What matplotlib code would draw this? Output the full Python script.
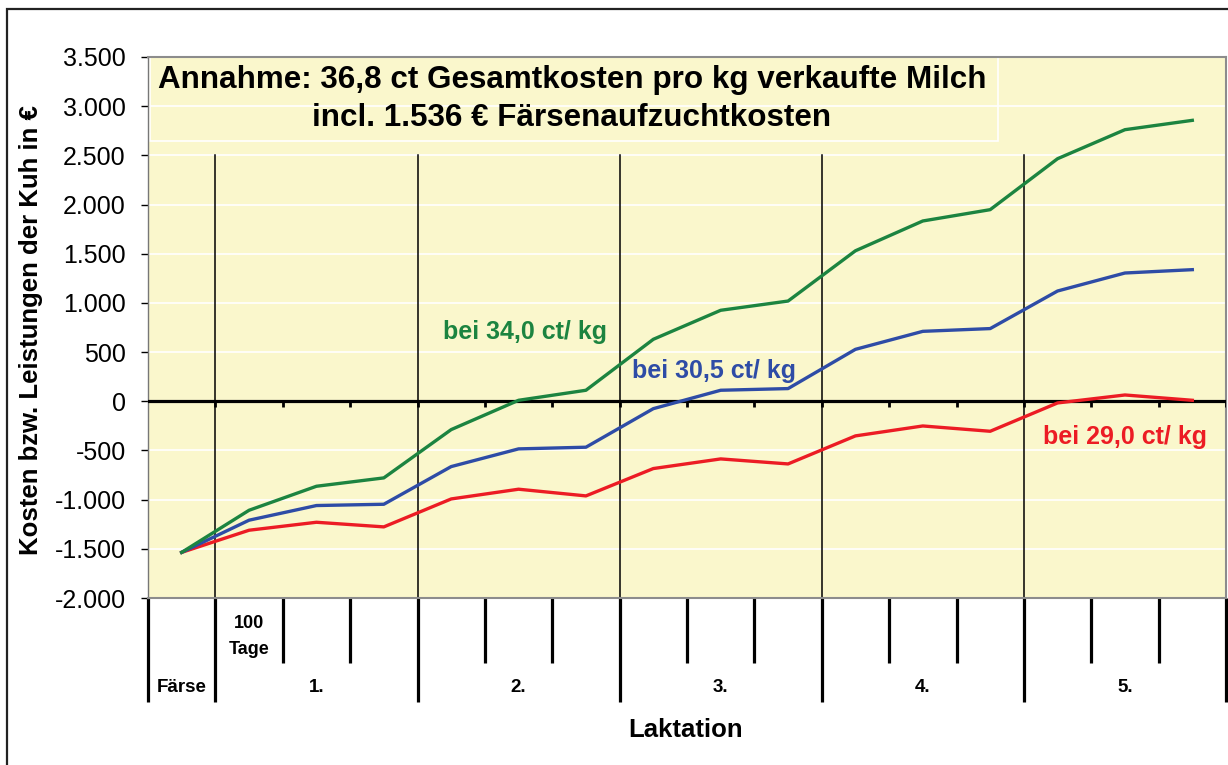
import matplotlib
matplotlib.use("Agg")
import matplotlib.pyplot as plt
from matplotlib.patches import Rectangle
from matplotlib.ticker import FuncFormatter, FixedLocator
import matplotlib.transforms as mtransforms

plt.rcParams['font.family'] = ['Liberation Sans', 'DejaVu Sans']

# ---- data ----
categories = ["Färse",
              "L1a", "L1b", "L1c",
              "L2a", "L2b", "L2c",
              "L3a", "L3b", "L3c",
              "L4a", "L4b", "L4c",
              "L5a", "L5b", "L5c"]
green_340 = [-1536, -1108, -864, -779, -288, 10, 112, 630, 925, 1019,
             1530, 1833, 1948, 2466, 2761, 2856]
blue_305 = [-1536, -1209, -1060, -1047, -664, -484, -467, -75, 112, 129,
            528, 711, 739, 1121, 1304, 1338]
red_290 = [-1536, -1311, -1230, -1277, -993, -894, -962, -684, -586, -637,
           -352, -251, -305, -17, 64, 10]
group_labels = ["Färse", "1.", "2.", "3.", "4.", "5."]
group_sizes = [1, 3, 3, 3, 3, 3]
series_labels = ["bei 34,0 ct/ kg", "bei 30,5 ct/ kg", "bei 29,0 ct/ kg"]
title_lines = ["Annahme: 36,8 ct Gesamtkosten pro kg verkaufte Milch",
               "incl. 1.536 € Färsenaufzuchtkosten"]
y_ticks = list(range(-2000, 3501, 500))

GREEN = "#1C8440"
BLUE = "#2E4CA6"
RED = "#EC1C24"
BG = "#FAF7CC"

W, H = 1228, 765
fig = plt.figure(figsize=(W / 100, H / 100), dpi=100)
fig.patch.set_facecolor("white")

# outer frame (continues past right/bottom edge)
fig.add_artist(Rectangle((7 / W, -0.2), 1.5, 1 - 9 / H + 0.2, transform=fig.transFigure,
                         fill=False, edgecolor="#222222", lw=1.6))

ax = fig.add_axes([148 / W, 1 - 598 / H, (1226 - 148) / W, (598 - 57) / H])
ax.set_facecolor(BG)
n = len(categories)
x = list(range(n))
ax.set_xlim(-0.5, n - 0.5)
ax.set_ylim(-2000, 3500)

for s in ax.spines.values():
    s.set_color("#8c8c8c")
    s.set_linewidth(1.5)
ax.spines['left'].set_color("#777777")
ax.spines['left'].set_linewidth(1.0)

# y axis
ax.yaxis.set_major_locator(FixedLocator(y_ticks))
ax.yaxis.set_major_formatter(FuncFormatter(lambda v, p: f"{v:,.0f}".replace(",", ".")))
ax.tick_params(axis='y', direction='out', length=5, width=1, color="black",
               labelsize=18, pad=11)
ax.grid(axis='y', color="white", lw=1.2, zorder=1)
ax.set_axisbelow(True)

# group boundaries
edges = [-0.5]
for g in group_sizes:
    edges.append(edges[-1] + g)
all_edges = [e - 0.5 for e in range(n + 1)]
minor_edges = [e for e in all_edges if e not in edges]

# x axis: long ticks at group edges, short ticks at the rest (below the plot)
ax.xaxis.set_major_locator(FixedLocator(edges))
ax.xaxis.set_minor_locator(FixedLocator(minor_edges))
ax.tick_params(axis='x', which='major', direction='out', length=75, width=2.3,
               color="black", labelbottom=False)
ax.tick_params(axis='x', which='minor', direction='out', length=47, width=2.3,
               color="black", labelbottom=False)

# title box
cat_px = (1226 - 148) / n
ax.add_patch(Rectangle((-0.5 + 2 / cat_px, 2650), 848 / cat_px, 850,
                       transform=ax.transData, facecolor=BG, edgecolor="white",
                       lw=1.2, zorder=0.5))

# separators inside the plot
for e in edges[1:-1]:
    ax.plot([e, e], [-2000, 2500], color="black", lw=1.1, zorder=2)

# zero line with small ticks
ax.axhline(0, color="black", lw=2.3, zorder=3)
tick_h = 6 * 5500 / 541
for e in all_edges[1:]:
    ax.plot([e, e], [0, -tick_h], color="black", lw=2.0, zorder=3,
            solid_capstyle='butt')

# lines
ax.plot(x, red_290, color=RED, lw=2.4, zorder=4)
ax.plot(x, blue_305, color=BLUE, lw=2.4, zorder=4)
ax.plot(x, green_340, color=GREEN, lw=2.4, zorder=5)

# series labels
lab_kw = dict(fontsize=18, fontweight='bold', ha='left', va='center', zorder=6)
ax.text(3.88, 700, series_labels[0], color=GREEN, **lab_kw)
ax.text(6.68, 305, series_labels[1], color=BLUE, **lab_kw)
ax.text(12.78, -366, series_labels[2], color=RED, **lab_kw)

# title
fig.text(572 / W, 1 - 80 / H, title_lines[0], fontsize=22.6, fontweight='bold',
         ha='center', va='center')
fig.text(572 / W, 1 - 118 / H, title_lines[1], fontsize=22.6, fontweight='bold',
         ha='center', va='center')

# group labels under the axis
trans = mtransforms.blended_transform_factory(ax.transData, fig.transFigure)
for i, lab in enumerate(group_labels):
    c = (edges[i] + edges[i + 1]) / 2
    ax.text(c, 1 - 688 / H, lab, transform=trans, fontsize=13.5, fontweight='bold',
            ha='center', va='center')
ax.text(1, 1 - 624 / H, "100", transform=trans, fontsize=13, fontweight='bold',
        ha='center', va='center')
ax.text(1, 1 - 649 / H, "Tage", transform=trans, fontsize=13, fontweight='bold',
        ha='center', va='center')

fig.text(686 / W, 1 - 730 / H, "Laktation", fontsize=18.5, fontweight='bold',
         ha='center', va='center')
fig.text(31 / W, 1 - 330 / H, "Kosten bzw. Leistungen der Kuh in €", fontsize=18.5,
         fontweight='bold', rotation=90, ha='center', va='center')

fig.savefig("out.png", dpi=100)
